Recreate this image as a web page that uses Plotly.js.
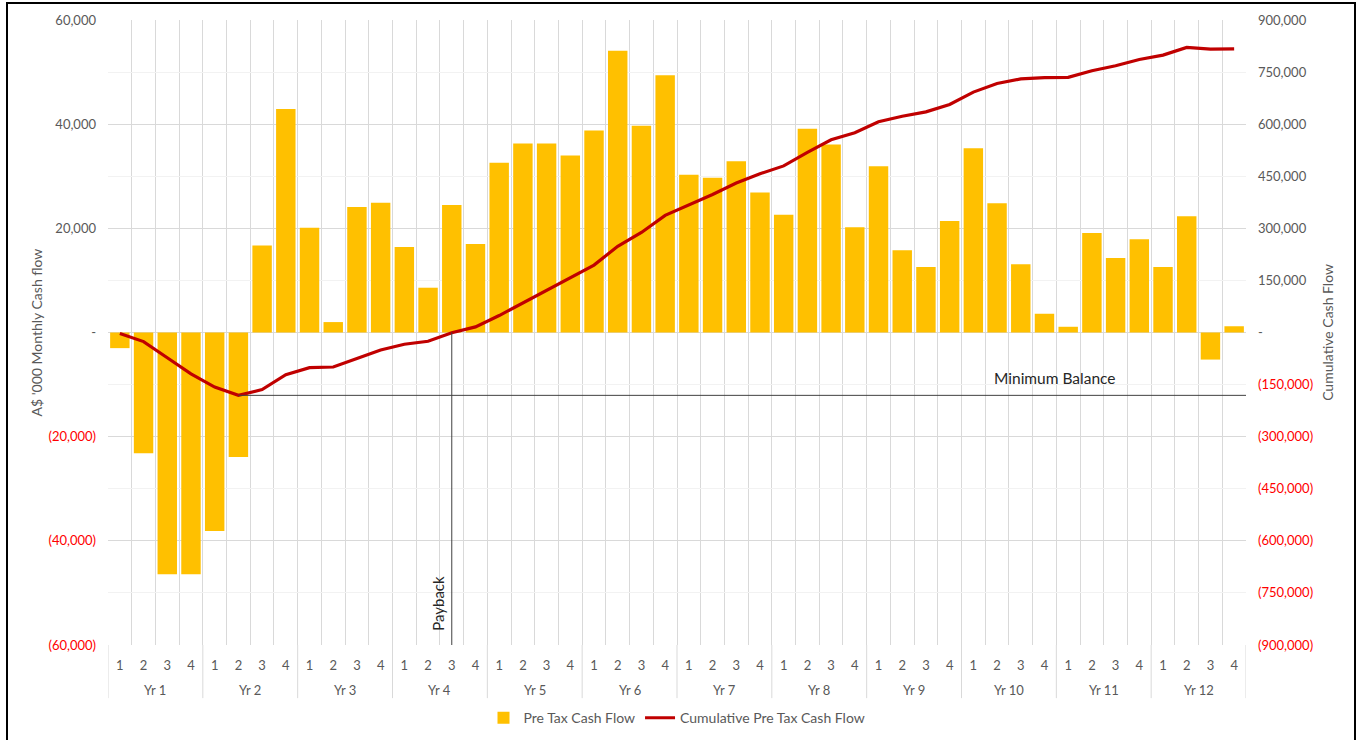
<!DOCTYPE html>
<html>
<head>
<meta charset="utf-8">
<script src="https://cdn.plot.ly/plotly-3.0.1.min.js"></script>
<style>
html,body{margin:0;padding:0;background:#fff;}
#chart{width:1359px;height:740px;}
#frame{position:absolute;left:6px;top:2px;width:1346px;height:745px;border:2px solid #000;pointer-events:none;}
</style>
</head>
<body>
<div id="chart"></div>
<div id="frame"></div>
<script>
// ---- data ----
const years = ['Yr 1','Yr 2','Yr 3','Yr 4','Yr 5','Yr 6','Yr 7','Yr 8','Yr 9','Yr 10','Yr 11','Yr 12'];
const quarters = ['1','2','3','4'];
const preTaxCashFlow = [
  -3000, -23200, -46400, -46400,
  -38100, -23900, 16700, 42900,
  20100, 2000, 24100, 24900,
  16400, 8600, 24500, 17000,
  32600, 36300, 36300, 34000,
  38800, 54100, 39700, 49400,
  30300, 29700, 32900, 26900,
  22600, 39100, 36100, 20200,
  31900, 15800, 12600, 21400,
  35400, 24800, 13100, 3600,
  1100, 19100, 14300, 17900,
  12600, 22300, -5200, 1200
];
const cumulativeCashFlow = [
  -3000, -26200, -72600, -119000,
  -157100, -181000, -164300, -121400,
  -101300, -99300, -75200, -50300,
  -33900, -25300, -800, 16200,
  48800, 85100, 121400, 155400,
  194200, 248300, 288000, 337400,
  367700, 397400, 430300, 457200,
  479800, 518900, 555000, 575200,
  607100, 622900, 635500, 656900,
  692300, 717100, 730200, 733800,
  734900, 754000, 768300, 786200,
  798800, 821100, 815900, 817100
];
const leftTickVals = [60000, 40000, 20000, 0, -20000, -40000, -60000];
const leftTickText = ['60,000', '40,000', '20,000', '-', '(20,000)', '(40,000)', '(60,000)'];
const leftMinorVals = [50000, 30000, 10000, -10000, -30000, -50000];
const rightTickVals = [900000, 750000, 600000, 450000, 300000, 150000, 0, -150000, -300000, -450000, -600000, -750000, -900000];
const rightTickText = ['900,000', '750,000', '600,000', '450,000', '300,000', '150,000', '-', '(150,000)', '(300,000)', '(450,000)', '(600,000)', '(750,000)', '(900,000)'];
const paybackIndex = 14;
const minBalanceIndex = 5;

// ---- build chart ----
const GREY = '#595959';
const RED = '#FF0000';
const FONT = 'Lato, "Open Sans", sans-serif';

const xIdx = preTaxCashFlow.map((_, i) => i);
const qLabels = [];
years.forEach(() => quarters.forEach(q => qLabels.push(q)));
const boundaries = [];
for (let i = 0; i <= preTaxCashFlow.length; i++) boundaries.push(i - 0.5);

function colorize(vals, texts) {
  return texts.map((t, i) => vals[i] < 0 ? '<span style="color:' + RED + '">' + t + '</span>' : t);
}

const traces = [
  {
    type: 'bar', name: 'Pre Tax Cash Flow', x: xIdx, y: preTaxCashFlow,
    marker: {color: '#FFC000'}, yaxis: 'y', hoverinfo: 'y'
  },
  {
    type: 'scatter', mode: 'lines', name: 'Cumulative Pre Tax Cash Flow', x: xIdx, y: cumulativeCashFlow,
    line: {color: '#C00000', width: 3.2}, yaxis: 'y2', hoverinfo: 'y'
  }
];

const nQ = quarters.length;
const annotations = years.map((yr, k) => ({
  text: yr, x: k * nQ + (nQ - 1) / 2, xref: 'x', y: -0.072, yref: 'paper',
  showarrow: false, xanchor: 'center', yanchor: 'middle',
  font: {family: FONT, size: 13, color: GREY}
}));
annotations.push({
  text: "A$ '000 Monthly Cash flow", textangle: -90, x: -0.0624, xref: 'paper', y: 0.5, yref: 'paper',
  showarrow: false, xanchor: 'center', yanchor: 'middle', font: {family: FONT, size: 14, color: GREY}
});
annotations.push({
  text: 'Cumulative Cash Flow', textangle: -90, x: 1.0715, xref: 'paper', y: 0.5, yref: 'paper',
  showarrow: false, xanchor: 'center', yanchor: 'middle', font: {family: FONT, size: 14, color: GREY}
});
annotations.push({
  text: 'Minimum Balance', x: 39.45, xref: 'x', y: cumulativeCashFlow[minBalanceIndex], yref: 'y2',
  yshift: 17, showarrow: false, xanchor: 'center', yanchor: 'middle',
  font: {family: FONT, size: 15.5, color: '#262626'}
});
annotations.push({
  text: 'Payback', textangle: -90, x: paybackIndex, xref: 'x', y: -60000, yref: 'y',
  xshift: -14, yshift: 42, showarrow: false, xanchor: 'center', yanchor: 'middle',
  font: {family: FONT, size: 15, color: '#262626'}
});

const shapes = [];
for (let k = 0; k <= years.length; k++) {
  shapes.push({type: 'line', xref: 'x', yref: 'paper', x0: k * nQ - 0.5, x1: k * nQ - 0.5, y0: 0, y1: -0.085,
    line: {color: '#d9d9d9', width: 1}});
}
shapes.push({type: 'line', xref: 'x', yref: 'y2', x0: minBalanceIndex, x1: preTaxCashFlow.length - 0.5,
  y0: cumulativeCashFlow[minBalanceIndex], y1: cumulativeCashFlow[minBalanceIndex],
  line: {color: '#404040', width: 1}});
shapes.push({type: 'line', xref: 'x', yref: 'y', x0: paybackIndex, x1: paybackIndex, y0: 0, y1: -60000,
  line: {color: '#404040', width: 1}});

const layout = {
  width: 1359, height: 740,
  margin: {l: 108, r: 113, t: 20, b: 95, autoexpand: false},
  paper_bgcolor: '#ffffff', plot_bgcolor: '#ffffff',
  font: {family: FONT, size: 13, color: GREY},
  showlegend: true,
  legend: {orientation: 'h', x: 0.5, xanchor: 'center', y: -0.117, yanchor: 'middle',
    font: {family: FONT, size: 14, color: GREY}, itemwidth: 30, traceorder: 'normal'},
  bargap: 0.18,
  xaxis: {
    range: [-0.5, preTaxCashFlow.length - 0.5], tickmode: 'array', tickvals: xIdx, ticktext: qLabels,
    showgrid: false, zeroline: false, showline: false, ticks: '', ticklabelstandoff: 11,
    tickfont: {family: FONT, size: 13, color: GREY},
    minor: {tickmode: 'array', tickvals: boundaries, showgrid: true, gridcolor: '#d9d9d9', gridwidth: 1, ticks: ''},
    fixedrange: true
  },
  yaxis: {
    range: [-60000, 60000], tickmode: 'array', tickvals: leftTickVals, ticktext: colorize(leftTickVals, leftTickText),
    showgrid: true, gridcolor: '#d9d9d9', gridwidth: 1,
    zeroline: true, zerolinecolor: '#d9d9d9', zerolinewidth: 1,
    minor: {tickmode: 'array', tickvals: leftMinorVals, showgrid: true, gridcolor: '#f2f2f2', ticks: ''},
    ticks: '', ticklabelstandoff: 11, tickfont: {family: FONT, size: 13, color: GREY}, fixedrange: true
  },
  yaxis2: {
    overlaying: 'y', side: 'right', range: [-900000, 900000], tickmode: 'array', tickvals: rightTickVals,
    ticktext: colorize(rightTickVals, rightTickText), showgrid: false, zeroline: false,
    ticks: '', ticklabelstandoff: 11, tickfont: {family: FONT, size: 13, color: GREY}, fixedrange: true
  },
  annotations: annotations,
  shapes: shapes
};

Plotly.newPlot('chart', traces, layout, {displayModeBar: false, staticPlot: true});
</script>
</body>
</html>
